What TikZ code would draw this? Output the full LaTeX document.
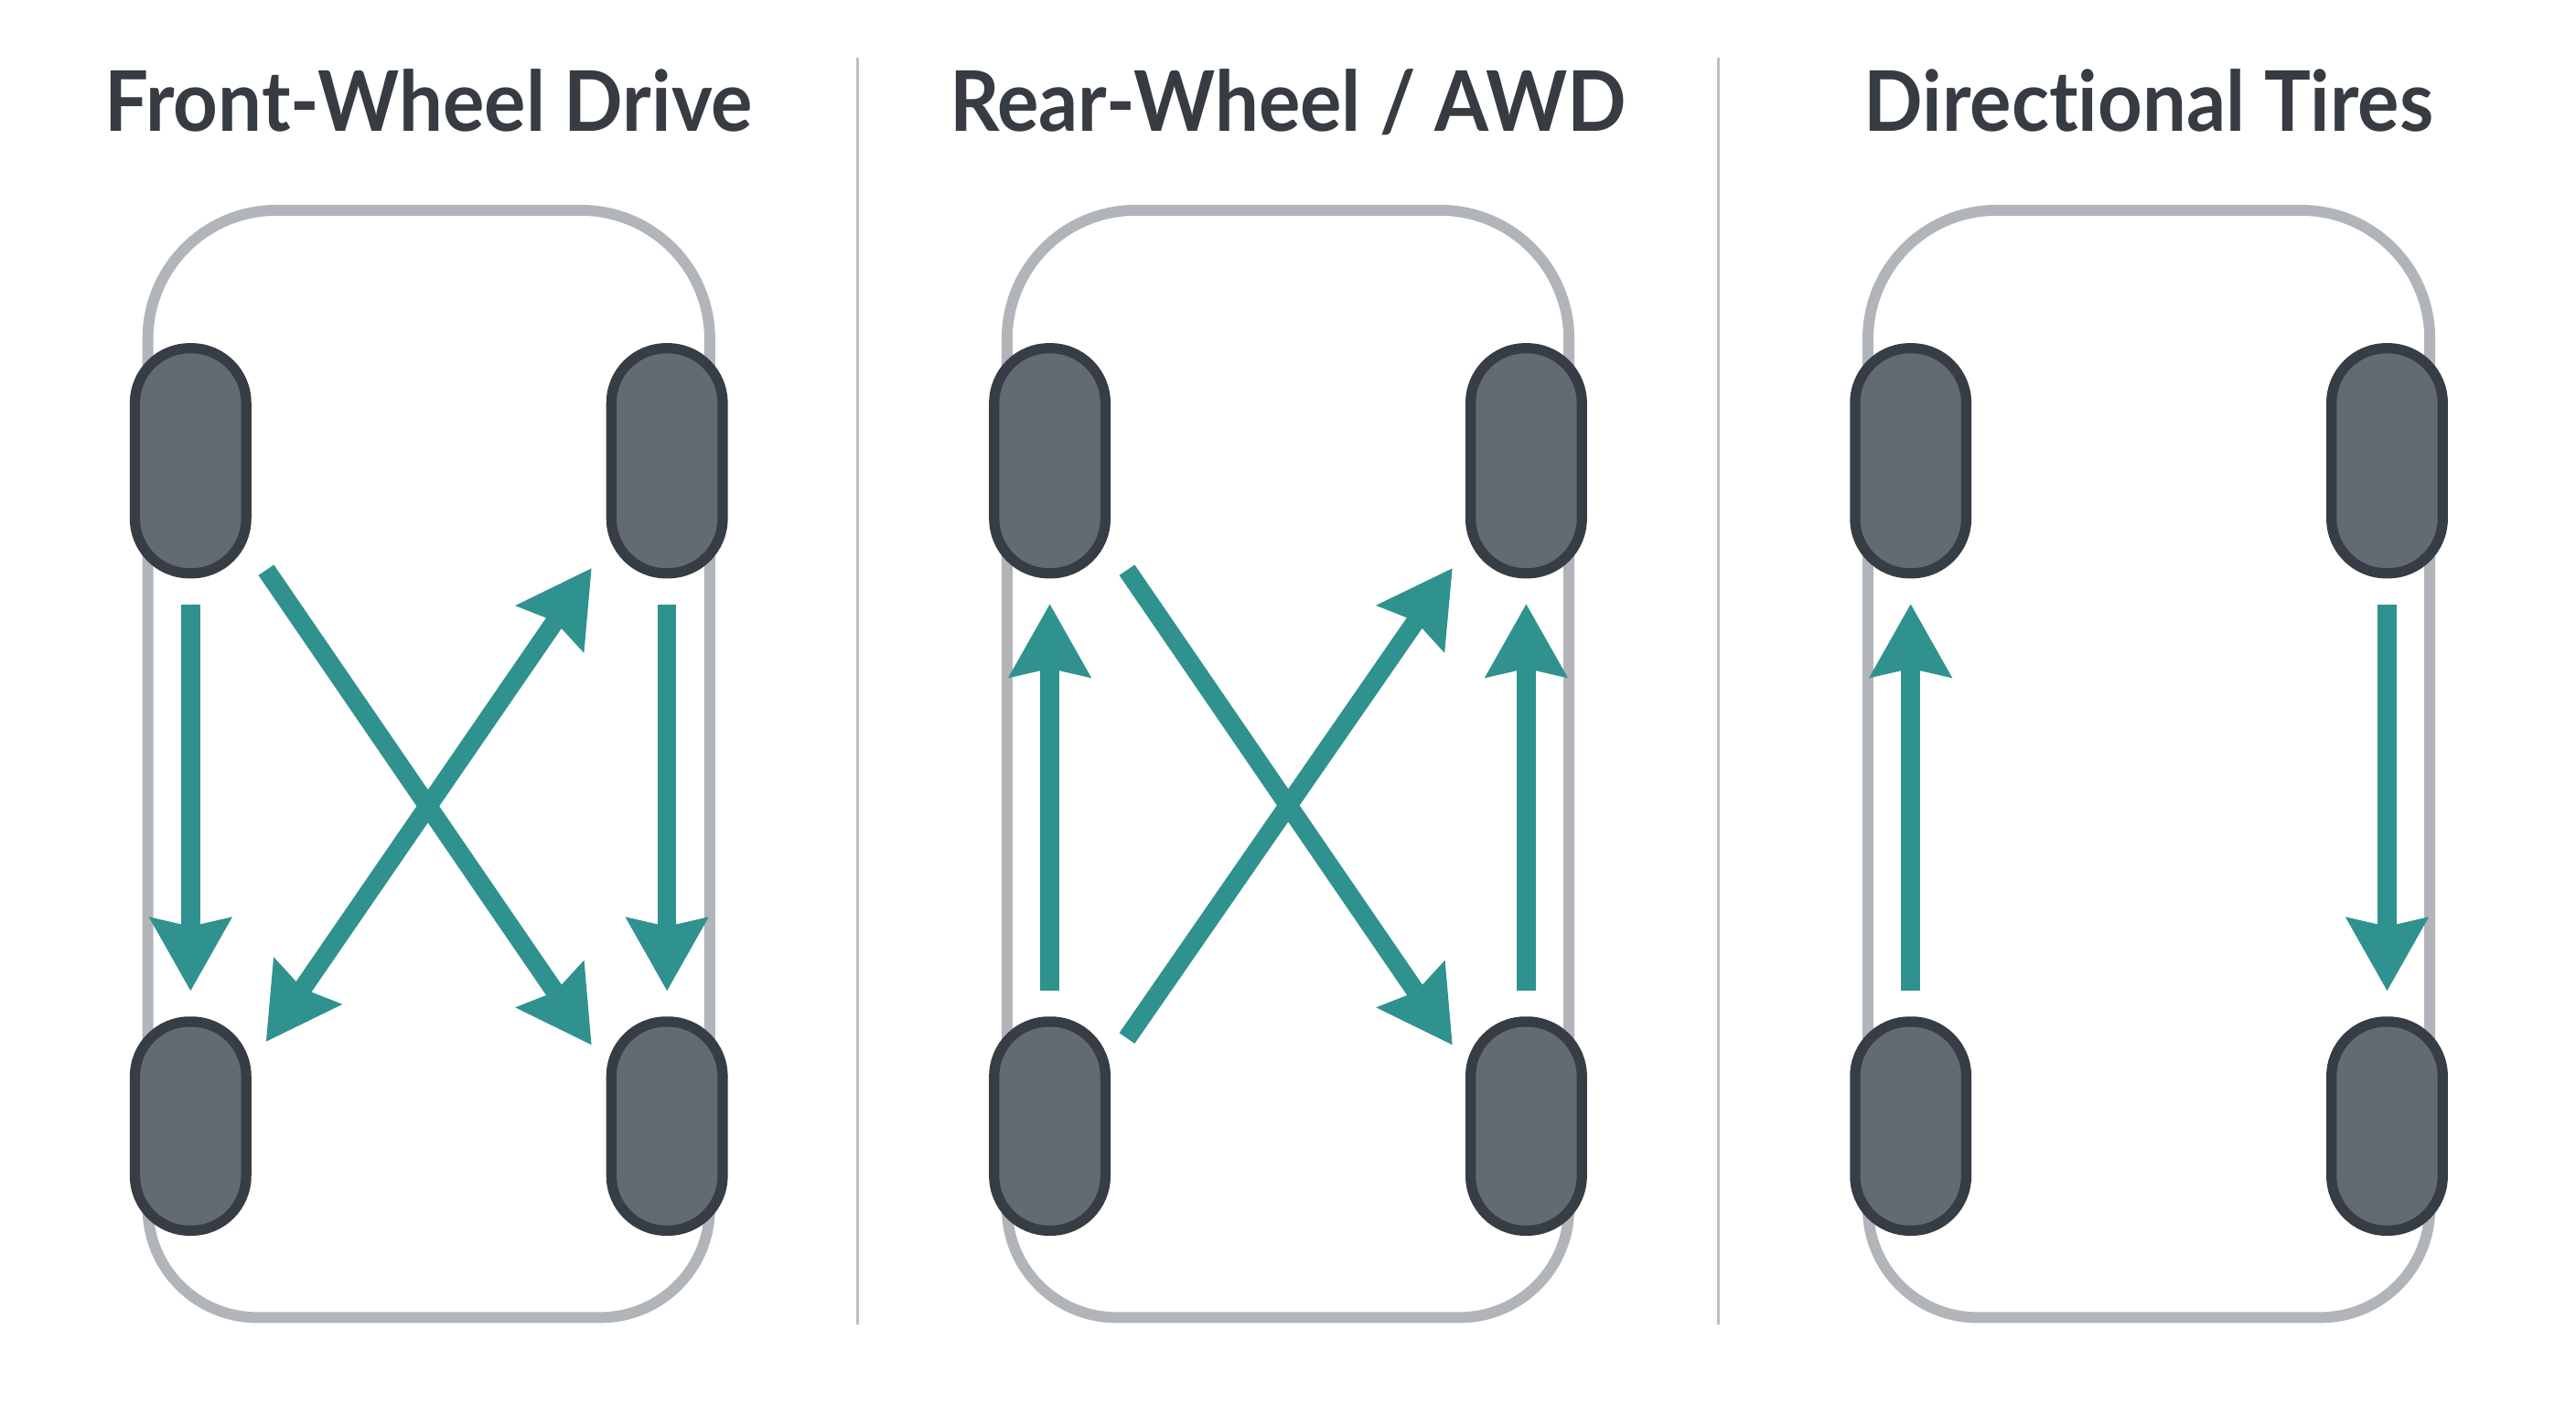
\documentclass[tikz,border=0pt]{standalone}
\usepackage{fontspec}
\setmainfont{Lato}
\newfontfamily\titlefont[Ligatures=NoCommon, FakeStretch=0.93]{Lato}
\usetikzlibrary{arrows.meta}

\definecolor{bodygray}{HTML}{B1B5BA}
\definecolor{tirefill}{HTML}{646A72}
\definecolor{tireedge}{HTML}{373D44}
\definecolor{rotteal}{HTML}{30928F}
\definecolor{titlegray}{HTML}{363C42}
\definecolor{rulegray}{HTML}{BDBFC2}

\begin{document}
\begin{tikzpicture}[
    x=0.01796cm,
    y=-0.01796cm,
    paneltitle/.style={
        font=\titlefont\bfseries\fontsize{26}{30}\selectfont,
        text=titlegray,
        anchor=base,
        inner sep=0pt
    },
    body/.style={
        draw=bodygray,
        fill=white,
        line width=3.4pt
    },
    tire/.style={
        rectangle,
        rounded corners=17pt,
        draw=tireedge,
        fill=tirefill,
        line width=3.2pt,
        minimum width=34.6pt,
        inner sep=0pt
    },
    fronttire/.style={tire, minimum height=70pt},
    reartire/.style={tire, minimum height=65pt},
    rot/.style={
        ->,
        draw=rotteal,
        line width=5.8pt,
        >={Stealth[length=23pt, width=26pt, inset=3pt, line width=0pt]}
    },
    twoway/.style={<->},
    gap/.style={shorten <=8pt, shorten >=8pt},
    divider/.style={draw=rulegray, line width=0.8pt}
]

\useasboundingbox (0,0) rectangle (1568,855);
\fill[white] (0,0) rectangle (1568,855);

% Dividers
\draw [divider] (522,35) -- (522,806);
\draw [divider] (1046,35) -- (1046,806);

% Front-wheel drive
\begin{scope}[shift={(261,0)}]
\node [paneltitle] (t1) at (0,80) {Front-Wheel Drive};
\draw [body] (-171,465) [rounded corners=40pt] |- (0,128) -| (171,465)
    [rounded corners=34pt] |- (0,802) -| (-171,465) -- cycle;
\node [fronttire] (fl1) at (-145,280.5) {};
\node [fronttire] (fr1) at (145,280.5) {};
\node [reartire] (rl1) at (-145,685.5) {};
\node [reartire] (rr1) at (145,685.5) {};
\coordinate (a1) at (-99,347);
\coordinate (b1) at (99,636);
\coordinate (c1) at (-99,634);
\coordinate (d1) at (99,346);
\draw [rot, gap] (fl1) -- (rl1);
\draw [rot, gap] (fr1) -- (rr1);
\draw [rot] (a1) -- (b1);
\draw [rot, twoway] (c1) -- (d1);
\end{scope}

% Rear-wheel / AWD
\begin{scope}[shift={(784,0)}]
\node [paneltitle] (t2) at (0,80) {Rear-Wheel / AWD};
\draw [body] (-171,465) [rounded corners=40pt] |- (0,128) -| (171,465)
    [rounded corners=34pt] |- (0,802) -| (-171,465) -- cycle;
\node [fronttire] (fl2) at (-145,280.5) {};
\node [fronttire] (fr2) at (145,280.5) {};
\node [reartire] (rl2) at (-145,685.5) {};
\node [reartire] (rr2) at (145,685.5) {};
\coordinate (a2) at (-98,347);
\coordinate (b2) at (100,636);
\coordinate (c2) at (-98,632);
\coordinate (d2) at (100,346);
\draw [rot, gap] (rl2) -- (fl2);
\draw [rot, gap] (rr2) -- (fr2);
\draw [rot] (a2) -- (b2);
\draw [rot] (c2) -- (d2);
\end{scope}

% Directional tires
\begin{scope}[shift={(1308,0)}]
\node [paneltitle] (t3) at (0,80) {Directional Tires};
\draw [body] (-171,465) [rounded corners=40pt] |- (0,128) -| (171,465)
    [rounded corners=34pt] |- (0,802) -| (-171,465) -- cycle;
\node [fronttire] (fl3) at (-145,280.5) {};
\node [fronttire] (fr3) at (145,280.5) {};
\node [reartire] (rl3) at (-145,685.5) {};
\node [reartire] (rr3) at (145,685.5) {};
\draw [rot, gap] (rl3) -- (fl3);
\draw [rot, gap] (fr3) -- (rr3);
\end{scope}

\end{tikzpicture}
\end{document}
